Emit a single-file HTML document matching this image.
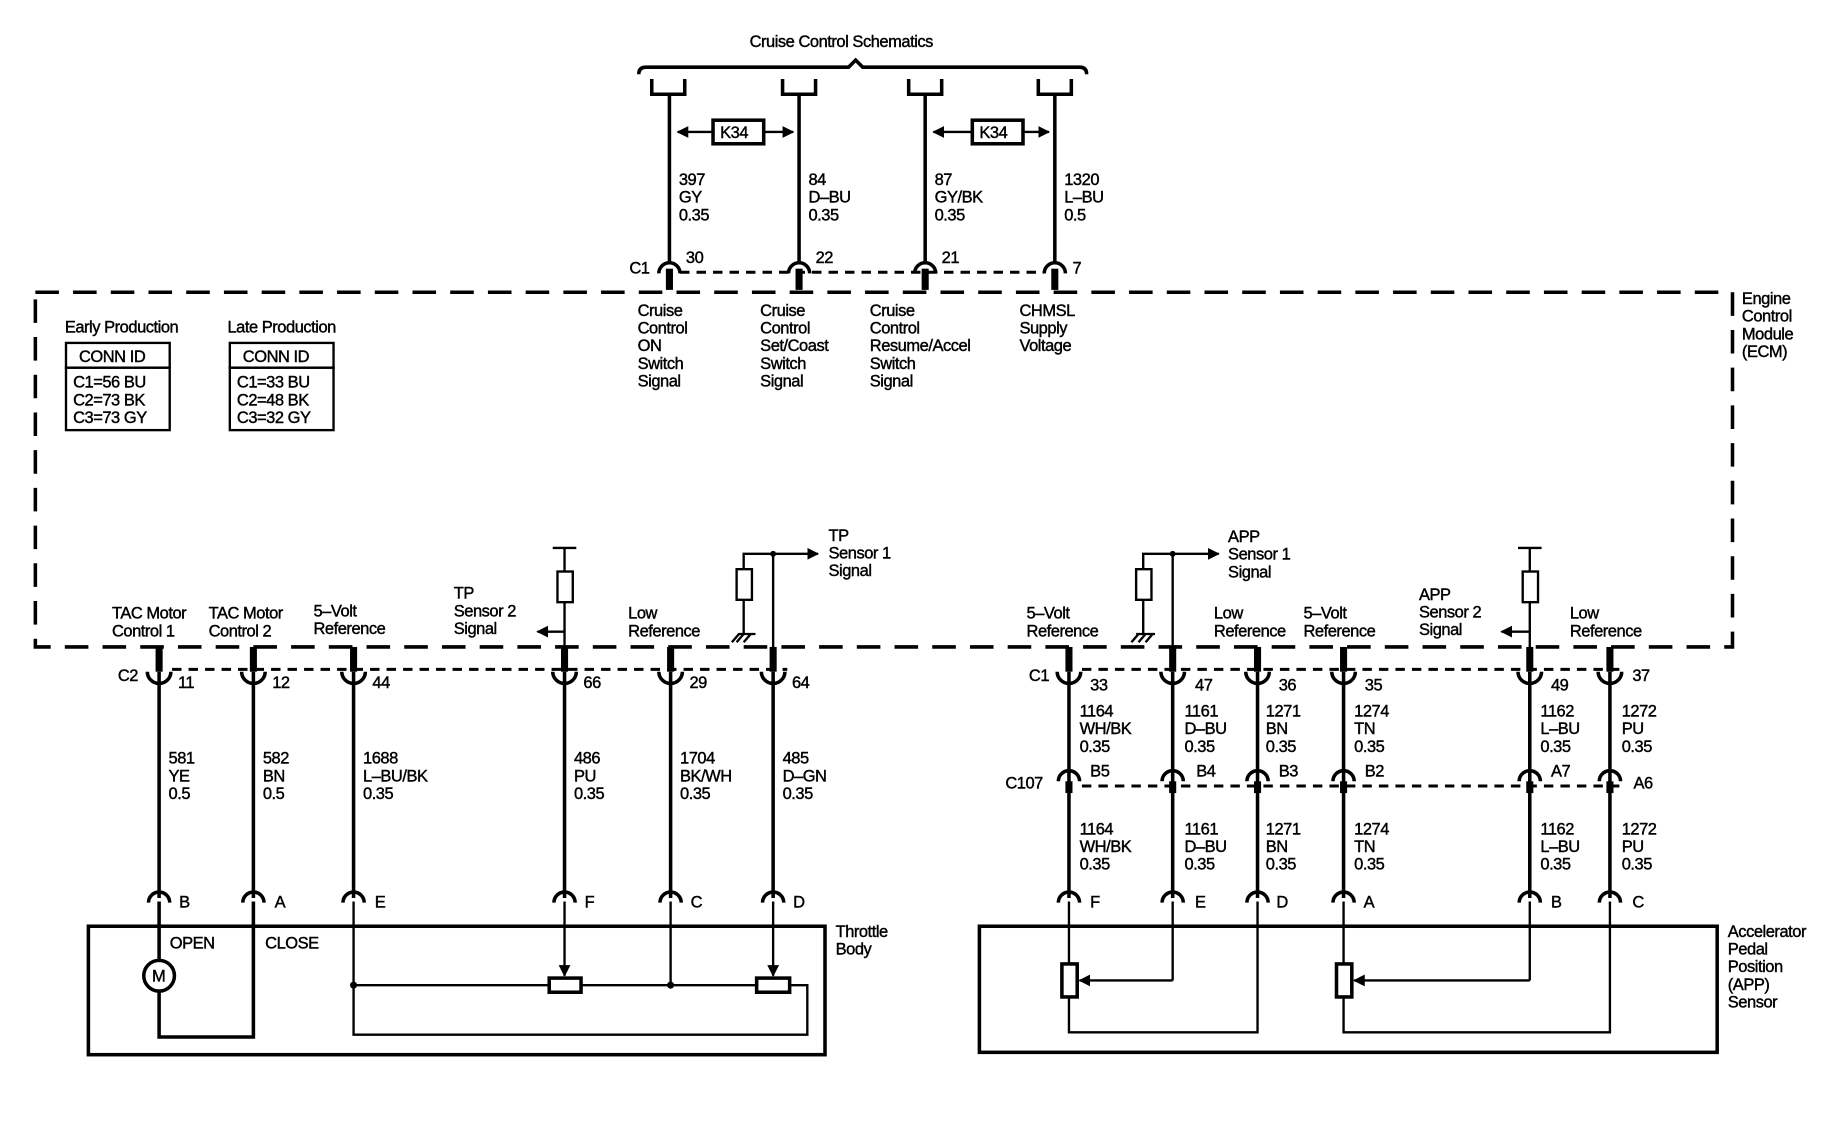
<!DOCTYPE html>
<html><head><meta charset="utf-8"><style>
html,body{margin:0;padding:0;background:#fff;}
svg{display:block;}
text{font-family:"Liberation Sans",sans-serif;font-size:14px;fill:#000;stroke:#000;stroke-width:0.35;letter-spacing:-0.4px;}
.w{stroke:#000;stroke-width:3;fill:none;}
.t{stroke:#000;stroke-width:2;fill:none;}
.d{stroke:#000;stroke-width:3;fill:none;stroke-dasharray:20 12;}
.ds{stroke:#000;stroke-width:2.5;fill:none;stroke-dasharray:8 6;}
</style></head><body>
<svg width="1848" height="1136" viewBox="0 0 1568 964" preserveAspectRatio="none" xmlns="http://www.w3.org/2000/svg">
<defs>
<marker id="ar" viewBox="0 0 10 10" refX="9" refY="5" markerWidth="5" markerHeight="5" orient="auto"><path d="M0 0L10 5L0 10z" fill="#000"/></marker>
<g id="cupB"><rect x="-3" y="-21" width="6" height="21" fill="#000"/><path d="M-10 0A10 10 0 0 0 10 0" class="w"/></g>
<g id="capT"><path d="M-9 6A9 9 0 0 1 9 6" class="w"/><rect x="-3" y="2" width="6" height="18" fill="#000"/></g>
<g id="capB"><path d="M-9 4A9 9 0 0 1 9 4" class="w"/></g>
</defs>

<text x="636" y="40">Cruise Control Schematics</text>
<path d="M542 63Q542 57 548 57L720 57L726 51L732 57L916 57Q922 57 922 63" class="w"/>
<g class="w">
<path d="M553 67V80H581V67"/><path d="M664 67V80H692V67"/><path d="M771 67V80H799V67"/><path d="M881 67V80H909V67"/>
<path d="M568 80V224"/><path d="M678 80V224"/><path d="M785 80V224"/><path d="M895 80V224"/>
</g>
<rect x="605" y="102" width="43" height="20" class="w"/><text x="611" y="117">K34</text>
<line x1="605" y1="112" x2="575" y2="112" class="t" marker-end="url(#ar)"/>
<line x1="648" y1="112" x2="673" y2="112" class="t" marker-end="url(#ar)"/>
<rect x="825" y="102" width="43" height="20" class="w"/><text x="831" y="117">K34</text>
<line x1="825" y1="112" x2="792" y2="112" class="t" marker-end="url(#ar)"/>
<line x1="868" y1="112" x2="890" y2="112" class="t" marker-end="url(#ar)"/>
<text x="576" y="157">397</text><text x="576" y="172">GY</text><text x="576" y="187">0.35</text>
<text x="686" y="157">84</text><text x="686" y="172">D–BU</text><text x="686" y="187">0.35</text>
<text x="793" y="157">87</text><text x="793" y="172">GY/BK</text><text x="793" y="187">0.35</text>
<text x="903" y="157">1320</text><text x="903" y="172">L–BU</text><text x="903" y="187">0.5</text>
<line x1="577" y1="231" x2="886" y2="231" class="ds"/>
<use href="#capT" x="568" y="226"/><use href="#capT" x="678" y="226"/><use href="#capT" x="785" y="226"/><use href="#capT" x="895" y="226"/>
<text x="534" y="232">C1</text><text x="582" y="223">30</text><text x="692" y="223">22</text><text x="799" y="223">21</text><text x="910" y="232">7</text>

<rect x="30" y="248" width="1440" height="301" class="d"/>
<text x="1478" y="258">Engine</text><text x="1478" y="273">Control</text><text x="1478" y="288">Module</text><text x="1478" y="303">(ECM)</text>
<g>
<text x="541" y="268">Cruise</text><text x="541" y="283">Control</text><text x="541" y="298">ON</text><text x="541" y="313">Switch</text><text x="541" y="328">Signal</text>
<text x="645" y="268">Cruise</text><text x="645" y="283">Control</text><text x="645" y="298">Set/Coast</text><text x="645" y="313">Switch</text><text x="645" y="328">Signal</text>
<text x="738" y="268">Cruise</text><text x="738" y="283">Control</text><text x="738" y="298">Resume/Accel</text><text x="738" y="313">Switch</text><text x="738" y="328">Signal</text>
<text x="865" y="268">CHMSL</text><text x="865" y="283">Supply</text><text x="865" y="298">Voltage</text>
</g>
<text x="55" y="282">Early Production</text>
<rect x="56" y="291" width="88" height="21" class="t"/><rect x="56" y="312" width="88" height="53" class="t"/>
<text x="67" y="307">CONN ID</text><text x="62" y="329">C1=56 BU</text><text x="62" y="344">C2=73 BK</text><text x="62" y="359">C3=73 GY</text>
<text x="193" y="282">Late Production</text>
<rect x="195" y="291" width="88" height="21" class="t"/><rect x="195" y="312" width="88" height="53" class="t"/>
<text x="206" y="307">CONN ID</text><text x="201" y="329">C1=33 BU</text><text x="201" y="344">C2=48 BK</text><text x="201" y="359">C3=32 GY</text>

<text x="95" y="525">TAC Motor</text><text x="95" y="540">Control 1</text>
<text x="177" y="525">TAC Motor</text><text x="177" y="540">Control 2</text>
<text x="266" y="523">5–Volt</text><text x="266" y="538">Reference</text>
<text x="385" y="508">TP</text><text x="385" y="523">Sensor 2</text><text x="385" y="538">Signal</text>
<text x="533" y="525">Low</text><text x="533" y="540">Reference</text>
<text x="703" y="459">TP</text><text x="703" y="474">Sensor 1</text><text x="703" y="489">Signal</text>
<path d="M469 465H489M479 465V485M479 511V549" class="t"/>
<rect x="473" y="485" width="13" height="26" class="t"/>
<line x1="479" y1="536" x2="456" y2="536" class="t" marker-end="url(#ar)"/>
<path d="M656 549V470H631V483M631 509V538M621 545L627 538H641M625 545L631 538M631 545L637 538" class="t"/>
<rect x="625" y="483" width="13" height="26" class="t"/>
<line x1="656" y1="470" x2="694" y2="470" class="t" marker-end="url(#ar)"/>
<circle cx="656" cy="470" r="2.5"/>
<text x="871" y="525">5–Volt</text><text x="871" y="540">Reference</text>
<text x="1042" y="460">APP</text><text x="1042" y="475">Sensor 1</text><text x="1042" y="490">Signal</text>
<text x="1030" y="525">Low</text><text x="1030" y="540">Reference</text>
<text x="1106" y="525">5–Volt</text><text x="1106" y="540">Reference</text>
<text x="1204" y="509">APP</text><text x="1204" y="524">Sensor 2</text><text x="1204" y="539">Signal</text>
<text x="1332" y="525">Low</text><text x="1332" y="540">Reference</text>
<path d="M995 549V470H970V483M970 509V538M960 545L966 538M964 538H980M966 545L972 538M972 545L978 538" class="t"/>
<rect x="964" y="483" width="13" height="26" class="t"/>
<line x1="995" y1="470" x2="1034" y2="470" class="t" marker-end="url(#ar)"/>
<circle cx="995" cy="470" r="2.5"/>
<path d="M1288 465H1308M1298 465V485M1298 511V549" class="t"/>
<rect x="1292" y="485" width="13" height="26" class="t"/>
<line x1="1298" y1="536" x2="1274" y2="536" class="t" marker-end="url(#ar)"/>

<line x1="146" y1="568" x2="668" y2="568" class="ds"/>
<use href="#cupB" x="135" y="570"/><use href="#cupB" x="215" y="570"/><use href="#cupB" x="300" y="570"/><use href="#cupB" x="479" y="570"/><use href="#cupB" x="569" y="570"/><use href="#cupB" x="656" y="570"/>
<g class="w"><path d="M135 570V762"/><path d="M215 570V762"/><path d="M300 570V762"/><path d="M479 570V762"/><path d="M569 570V762"/><path d="M656 570V762"/></g>
<text x="100" y="578">C2</text><text x="151" y="584">11</text><text x="231" y="584">12</text><text x="316" y="584">44</text><text x="495" y="584">66</text><text x="585" y="584">29</text><text x="672" y="584">64</text>
<text x="143" y="648">581</text><text x="143" y="663">YE</text><text x="143" y="678">0.5</text>
<text x="223" y="648">582</text><text x="223" y="663">BN</text><text x="223" y="678">0.5</text>
<text x="308" y="648">1688</text><text x="308" y="663">L–BU/BK</text><text x="308" y="678">0.35</text>
<text x="487" y="648">486</text><text x="487" y="663">PU</text><text x="487" y="678">0.35</text>
<text x="577" y="648">1704</text><text x="577" y="663">BK/WH</text><text x="577" y="678">0.35</text>
<text x="664" y="648">485</text><text x="664" y="663">D–GN</text><text x="664" y="678">0.35</text>
<use href="#capB" x="135" y="762"/><use href="#capB" x="215" y="762"/><use href="#capB" x="300" y="762"/><use href="#capB" x="479" y="762"/><use href="#capB" x="569" y="762"/><use href="#capB" x="656" y="762"/>
<text x="152" y="770">B</text><text x="233" y="770">A</text><text x="318" y="770">E</text><text x="496" y="770">F</text><text x="586" y="770">C</text><text x="673" y="770">D</text>
<rect x="75" y="786" width="625" height="109" class="w"/>
<text x="709" y="795">Throttle</text><text x="709" y="810">Body</text>
<text x="144" y="805">OPEN</text><text x="225" y="805">CLOSE</text>
<path d="M135 765V815M135 841V880H215V765" class="w"/>
<circle cx="135" cy="828" r="13" class="w"/><text x="129" y="833">M</text>
<path d="M300 765V878H685V836H670M642 836H493M466 836H300" class="t"/>
<rect x="466" y="830" width="27" height="12" class="w"/><rect x="642" y="830" width="28" height="12" class="w"/>
<line x1="479" y1="765" x2="479" y2="828" class="t" marker-end="url(#ar)"/>
<line x1="656" y1="765" x2="656" y2="828" class="t" marker-end="url(#ar)"/>
<path d="M569 765V836" class="t"/><circle cx="569" cy="836" r="3"/><circle cx="300" cy="836" r="3"/>

<line x1="918" y1="568" x2="1378" y2="568" class="ds"/>
<use href="#cupB" x="907" y="570"/><use href="#cupB" x="995" y="570"/><use href="#cupB" x="1067" y="570"/><use href="#cupB" x="1140" y="570"/><use href="#cupB" x="1298" y="570"/><use href="#cupB" x="1366" y="570"/>
<g class="w"><path d="M907 570V762"/><path d="M995 570V762"/><path d="M1067 570V762"/><path d="M1140 570V762"/><path d="M1298 570V762"/><path d="M1366 570V762"/></g>
<text x="873" y="578">C1</text><text x="925" y="586">33</text><text x="1014" y="586">47</text><text x="1085" y="586">36</text><text x="1158" y="586">35</text><text x="1316" y="586">49</text><text x="1385" y="578">37</text>
<g>
<text x="916" y="608">1164</text><text x="916" y="623">WH/BK</text><text x="916" y="638">0.35</text>
<text x="1005" y="608">1161</text><text x="1005" y="623">D–BU</text><text x="1005" y="638">0.35</text>
<text x="1074" y="608">1271</text><text x="1074" y="623">BN</text><text x="1074" y="638">0.35</text>
<text x="1149" y="608">1274</text><text x="1149" y="623">TN</text><text x="1149" y="638">0.35</text>
<text x="1307" y="608">1162</text><text x="1307" y="623">L–BU</text><text x="1307" y="638">0.35</text>
<text x="1376" y="608">1272</text><text x="1376" y="623">PU</text><text x="1376" y="638">0.35</text>
</g>
<line x1="918" y1="667" x2="1378" y2="667" class="ds"/>
<use href="#capB" x="907" y="659"/><use href="#capB" x="995" y="659"/><use href="#capB" x="1067" y="659"/><use href="#capB" x="1140" y="659"/><use href="#capB" x="1298" y="659"/><use href="#capB" x="1366" y="659"/>
<g fill="#000"><rect x="904" y="663" width="6" height="10"/><rect x="992" y="663" width="6" height="10"/><rect x="1064" y="663" width="6" height="10"/><rect x="1137" y="663" width="6" height="10"/><rect x="1295" y="663" width="6" height="10"/><rect x="1363" y="663" width="6" height="10"/></g>
<text x="853" y="669">C107</text><text x="925" y="659">B5</text><text x="1015" y="659">B4</text><text x="1085" y="659">B3</text><text x="1158" y="659">B2</text><text x="1316" y="659">A7</text><text x="1386" y="669">A6</text>
<g>
<text x="916" y="708">1164</text><text x="916" y="723">WH/BK</text><text x="916" y="738">0.35</text>
<text x="1005" y="708">1161</text><text x="1005" y="723">D–BU</text><text x="1005" y="738">0.35</text>
<text x="1074" y="708">1271</text><text x="1074" y="723">BN</text><text x="1074" y="738">0.35</text>
<text x="1149" y="708">1274</text><text x="1149" y="723">TN</text><text x="1149" y="738">0.35</text>
<text x="1307" y="708">1162</text><text x="1307" y="723">L–BU</text><text x="1307" y="738">0.35</text>
<text x="1376" y="708">1272</text><text x="1376" y="723">PU</text><text x="1376" y="738">0.35</text>
</g>
<use href="#capB" x="907" y="762"/><use href="#capB" x="995" y="762"/><use href="#capB" x="1067" y="762"/><use href="#capB" x="1140" y="762"/><use href="#capB" x="1298" y="762"/><use href="#capB" x="1366" y="762"/>
<text x="925" y="770">F</text><text x="1014" y="770">E</text><text x="1083" y="770">D</text><text x="1157" y="770">A</text><text x="1316" y="770">B</text><text x="1385" y="770">C</text>
<rect x="831" y="786" width="626" height="107" class="w"/>
<text x="1466" y="795">Accelerator</text><text x="1466" y="810">Pedal</text><text x="1466" y="825">Position</text><text x="1466" y="840">(APP)</text><text x="1466" y="855">Sensor</text>
<path d="M907 765V818M907 846V876H1067V765" class="t"/>
<rect x="901" y="818" width="13" height="28" class="w"/>
<path d="M995 765V832" class="t"/><line x1="995" y1="832" x2="916" y2="832" class="t" marker-end="url(#ar)"/>
<path d="M1140 765V818M1140 846V876H1366V765" class="t"/>
<rect x="1134" y="818" width="13" height="28" class="w"/>
<path d="M1298 765V832" class="t"/><line x1="1298" y1="832" x2="1149" y2="832" class="t" marker-end="url(#ar)"/>
</svg>
</body></html>
